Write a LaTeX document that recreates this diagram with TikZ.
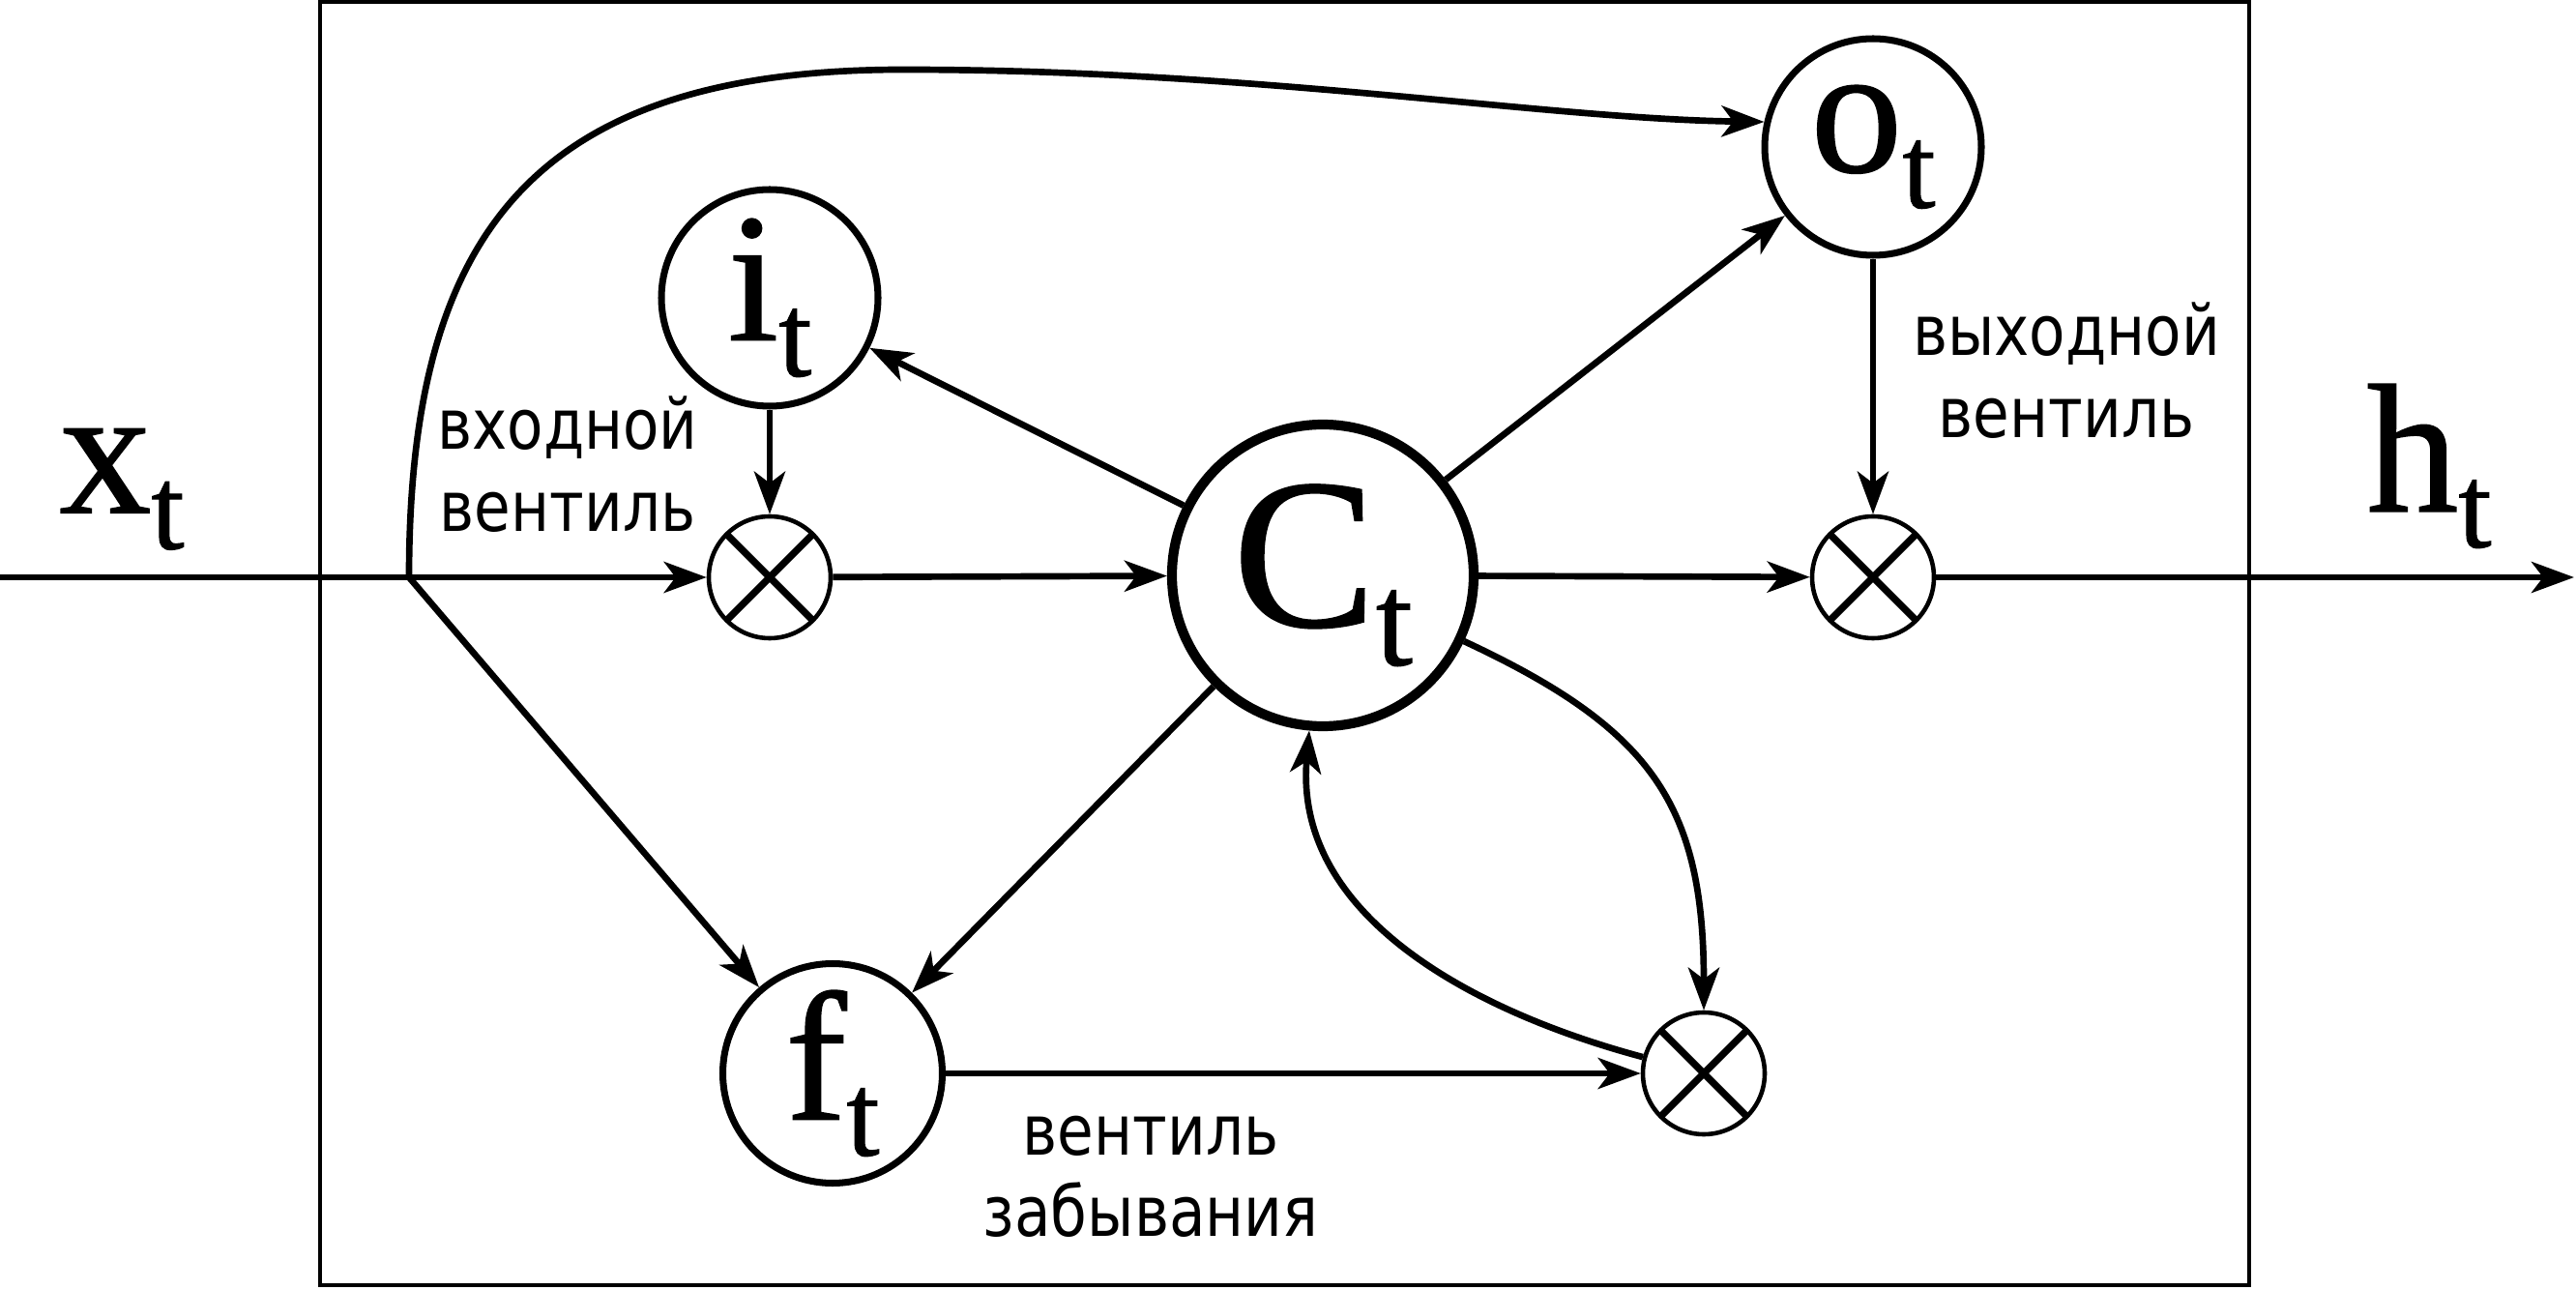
\documentclass[tikz,border=0pt]{standalone}
\usepackage{fontspec}
\setmainfont{Liberation Serif}
\newfontfamily\gatefont[FakeBold=0.8]{Liberation Serif}
\newfontfamily\cyrfont[FakeStretch=0.85]{DejaVu Sans}
\usetikzlibrary{arrows.meta}
\newcommand{\gatename}[4]{{\gatefont\fontsize{#2}{#2}\selectfont #1}\raisebox{-#4}{\gatefont\fontsize{#3}{#3}\selectfont t}}

\begin{document}
\begin{tikzpicture}[
  >={Stealth[length=0.44cm,width=0.32cm,inset=0.12cm]},
  conn/.style={->,line width=1.9pt},
  gate/.style={circle,draw,line width=2pt,inner sep=0pt,minimum size=2.24cm},
  mult/.style={circle,draw,line width=1.3pt,inner sep=0pt,minimum size=1.26cm,
    path picture={\draw[line width=2.1pt] (path picture bounding box.north west) -- (path picture bounding box.south east)
      (path picture bounding box.north east) -- (path picture bounding box.south west);}},
  note/.style={font=\cyrfont\fontsize{20.5}{24}\selectfont,align=center}
]
\useasboundingbox (0,0) rectangle (26.64,13.33);
\draw[line width=1.3pt] (3.31,0.04) rectangle (23.26,13.31);

\node[gate,line width=2.9pt,minimum size=3.12cm] (C) at (13.68,7.38) {\gatename{C}{63}{39}{0.40cm}};
\node[gate] (i) at (7.96,10.25) {\gatename{i}{54}{35}{0.37cm}};
\node[gate] (o) at (19.37,11.81) {\gatename{o}{54}{35}{0.37cm}};
\node[gate,minimum size=2.27cm] (f) at (8.61,2.23) {\gatename{f}{54}{35}{0.37cm}};
\node[mult] (mi) at (7.96,7.36) {};
\node[mult] (mo) at (19.37,7.36) {};
\node[mult] (mf) at (17.62,2.23) {};
\node (x) at (1.26,8.27) {\gatename{x}{54}{35}{0.37cm}};
\node (h) at (25.12,8.51) {\gatename{h}{54}{35}{0.37cm}};

\coordinate (in) at (0,7.36);
\coordinate (J) at (4.23,7.36);
\coordinate (out) at (26.62,7.36);
\coordinate (top) at (9.34,12.61);

\node[note] (ilbl) at (5.87,8.53) {входной\\вентиль};
\node[note] (olbl) at (21.37,9.50) {выходной\\вентиль};
\node[note] (flbl) at (11.90,1.16) {вентиль\\забывания};

\draw[conn] (in) -- (mi);
\draw[conn] (mi) -- (C);
\draw[conn] (C) -- (mo);
\draw[conn] (mo) -- (out);
\draw[conn] (i) -- (mi);
\draw[conn] (o) -- (mo);
\draw[conn] (C) -- (i);
\draw[conn] (C) -- (o);
\draw[conn] (C) -- (f);
\draw[conn] (J) -- (f);
\draw[conn] (f) -- (mf);
\draw[conn] (J) .. controls (4.23,10.9) and (5.5,12.61) .. (top) .. controls (13,12.61) and (16,12.1) .. (o.167);
\draw[conn] (C) to[out=-25,in=90,looseness=1.2] (mf);
\draw[conn] (mf) to[out=165,in=-95] (C);

\end{tikzpicture}
\end{document}
